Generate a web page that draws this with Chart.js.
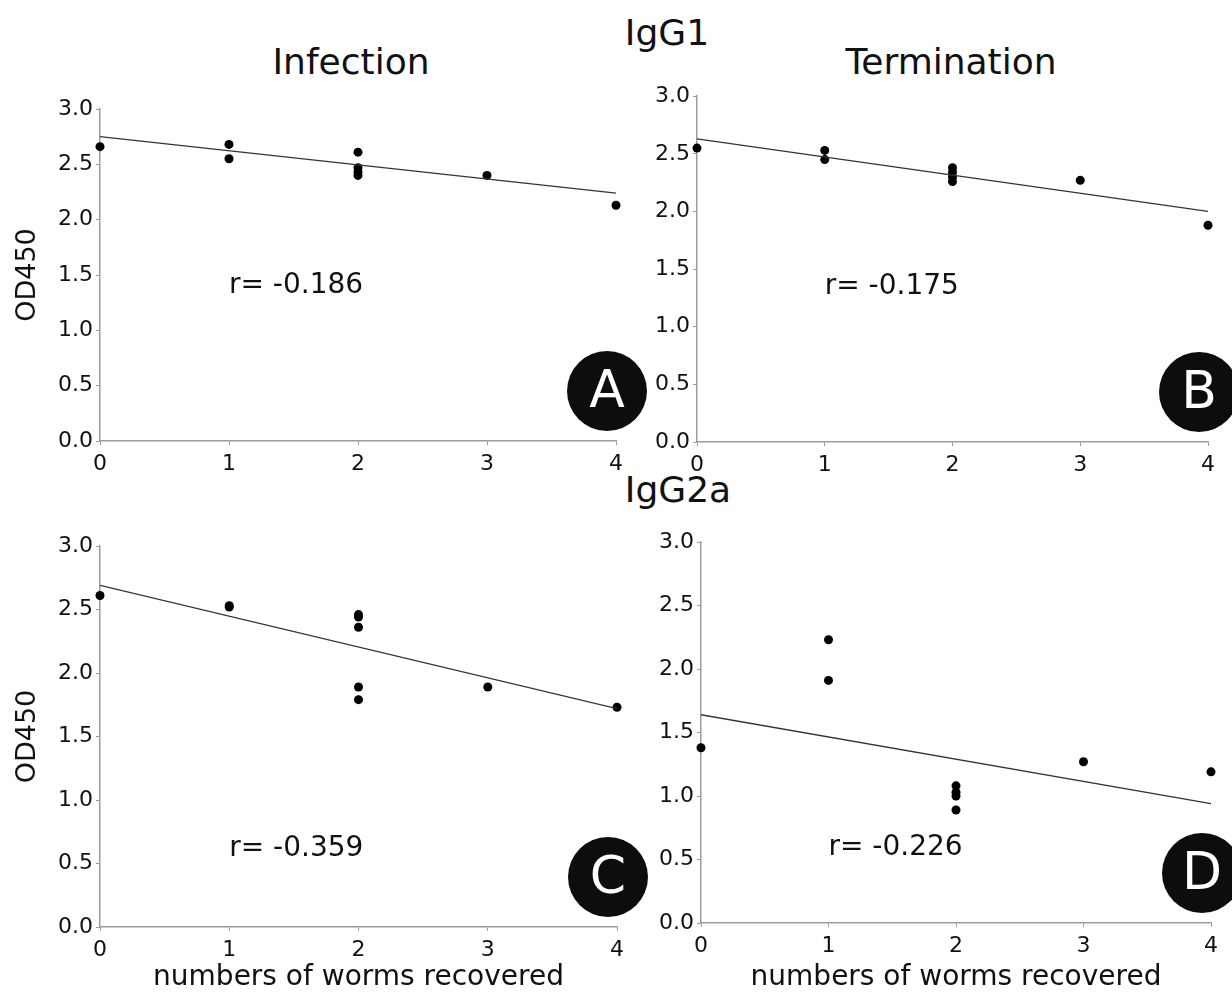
<!DOCTYPE html>
<html>
<head>
<meta charset="utf-8">
<script src="https://cdn.jsdelivr.net/npm/chart.js@4.4.1/dist/chart.umd.min.js"></script>
<style>
  body { margin: 0; background: #fff; width: 1232px; height: 992px; position: relative; overflow: hidden; font-family: "DejaVu Sans", sans-serif; }
  canvas { position: absolute; }
  .head { position: absolute; font-size: 36px; line-height: 36px; color: #111; text-align: center; white-space: nowrap; width: 300px; }
</style>
</head>
<body>
<div class="head" style="left:201px;top:44px">Infection</div>
<div class="head" style="left:517px;top:15px">IgG1</div>
<div class="head" style="left:801px;top:44px">Termination</div>
<div class="head" style="left:528px;top:472px">IgG2a</div>

<canvas id="chartA" width="650" height="400" style="left:0;top:80px"></canvas>
<canvas id="chartB" width="592" height="400" style="left:640px;top:80px"></canvas>
<canvas id="chartC" width="650" height="472" style="left:0;top:520px"></canvas>
<canvas id="chartD" width="592" height="472" style="left:640px;top:520px"></canvas>

<script>
// worms recovered (x) and OD450 (y), one pair per mouse
const wormsA = [0, 1, 1, 2, 2, 2, 2, 3, 4];
const odA    = [2.66, 2.68, 2.55, 2.61, 2.47, 2.43, 2.40, 2.40, 2.13];
const wormsB = [0, 1, 1, 2, 2, 2, 2, 3, 4];
const odB    = [2.55, 2.53, 2.45, 2.38, 2.34, 2.30, 2.26, 2.27, 1.88];
const wormsC = [0, 1, 1, 2, 2, 2, 2, 2, 3, 4];
const odC    = [2.61, 2.53, 2.52, 2.46, 2.44, 2.36, 1.89, 1.79, 1.89, 1.73];
const wormsD = [0, 1, 1, 2, 2, 2, 2, 3, 4];
const odD    = [1.38, 2.23, 1.91, 1.08, 1.03, 1.00, 0.89, 1.27, 1.19];

// regression line values at the two ends of the x range
const fitEnds = [0, 4];
const fitA = [2.75, 2.24];
const fitB = [2.63, 2.00];
const fitC = [2.69, 1.72];
const fitD = [1.64, 0.94];

const rA = 'r= -0.186';
const rB = 'r= -0.175';
const rC = 'r= -0.359';
const rD = 'r= -0.226';

const xTicks = [0, 1, 2, 3, 4];
const yTicks = [0, 0.5, 1, 1.5, 2, 2.5, 3];

Chart.defaults.font.family = "'DejaVu Sans', sans-serif";
Chart.defaults.color = '#111';

const axisGrey = '#9c9c9c';

const panels = [
  { id: 'chartA', x: wormsA, y: odA, fit: fitA, r: rA, letter: 'A', yTitle: true,  xTitle: false, yW: 100, xH: 39, top: 29, right: 34, rAt: [1, 1.40] },
  { id: 'chartB', x: wormsB, y: odB, fit: fitB, r: rB, letter: 'B', yTitle: false, xTitle: false, yW: 57,  xH: 38, top: 16, right: 24, rAt: [1, 1.35] },
  { id: 'chartC', x: wormsC, y: odC, fit: fitC, r: rC, letter: 'C', yTitle: true,  xTitle: true,  yW: 100, xH: 65, top: 26, right: 33, rAt: [1, 0.62] },
  { id: 'chartD', x: wormsD, y: odD, fit: fitD, r: rD, letter: 'D', yTitle: false, xTitle: true,  yW: 61,  xH: 69, top: 22, right: 21, rAt: [1, 0.59] }
];

const notes = {
  id: 'notes',
  afterDatasetsDraw(chart, args, opts) {
    const ctx = chart.ctx;
    const area = chart.chartArea;
    const xs = chart.scales.x, ys = chart.scales.y;
    ctx.save();
    ctx.fillStyle = '#111';
    ctx.font = "28px 'DejaVu Sans', sans-serif";
    ctx.textAlign = 'left';
    ctx.textBaseline = 'middle';
    ctx.fillText(opts.r, xs.getPixelForValue(opts.rAt[0]), ys.getPixelForValue(opts.rAt[1]));

    const cx = area.right - 9, cy = area.bottom - 50;
    ctx.beginPath();
    ctx.arc(cx, cy, 40, 0, Math.PI * 2);
    ctx.fillStyle = '#0d0d0d';
    ctx.fill();
    ctx.fillStyle = '#fff';
    ctx.font = "52px 'DejaVu Sans', sans-serif";
    ctx.textAlign = 'center';
    ctx.fillText(opts.letter, cx, cy + 2);
    ctx.restore();
  }
};

panels.forEach(function (p) {
  const points = p.x.map((v, i) => ({ x: v, y: p.y[i] }));
  const line = fitEnds.map((v, i) => ({ x: v, y: p.fit[i] }));

  new Chart(document.getElementById(p.id), {
    type: 'scatter',
    data: {
      datasets: [
        {
          type: 'line',
          data: line,
          borderColor: '#333',
          borderWidth: 1.3,
          pointRadius: 0,
          fill: false
        },
        {
          data: points,
          pointRadius: 4.5,
          pointBackgroundColor: '#000',
          pointBorderWidth: 0,
          clip: false
        }
      ]
    },
    options: {
      responsive: false,
      animation: false,
      layout: { padding: { top: p.top, right: p.right, left: 0, bottom: 0 } },
      plugins: {
        legend: { display: false },
        tooltip: { enabled: false },
        notes: { r: p.r, rAt: p.rAt, letter: p.letter }
      },
      scales: {
        x: {
          type: 'linear',
          min: xTicks[0],
          max: xTicks[xTicks.length - 1],
          afterBuildTicks: s => { s.ticks = xTicks.map(v => ({ value: v })); },
          afterFit: s => { s.height = p.xH; },
          ticks: { font: { size: 22 }, padding: 6, maxRotation: 0 },
          grid: { drawOnChartArea: false, drawTicks: true, tickLength: 4, color: axisGrey },
          border: { color: axisGrey, width: 1.5 },
          title: {
            display: p.xTitle,
            text: 'numbers of worms recovered',
            font: { size: 28, lineHeight: 1 },
            padding: { top: 0, bottom: 0 }
          }
        },
        y: {
          type: 'linear',
          min: yTicks[0],
          max: yTicks[yTicks.length - 1],
          afterBuildTicks: s => { s.ticks = yTicks.map(v => ({ value: v })); },
          afterFit: s => { s.width = p.yW; },
          ticks: { font: { size: 22 }, padding: 3, callback: v => v.toFixed(1) },
          grid: { drawOnChartArea: false, drawTicks: true, tickLength: 4, color: axisGrey },
          border: { color: axisGrey, width: 1.5 },
          title: {
            display: p.yTitle,
            text: 'OD450',
            font: { size: 27, lineHeight: 1 },
            padding: { top: 14, bottom: 0 }
          }
        }
      }
    },
    plugins: [notes]
  });
});
</script>
</body>
</html>
